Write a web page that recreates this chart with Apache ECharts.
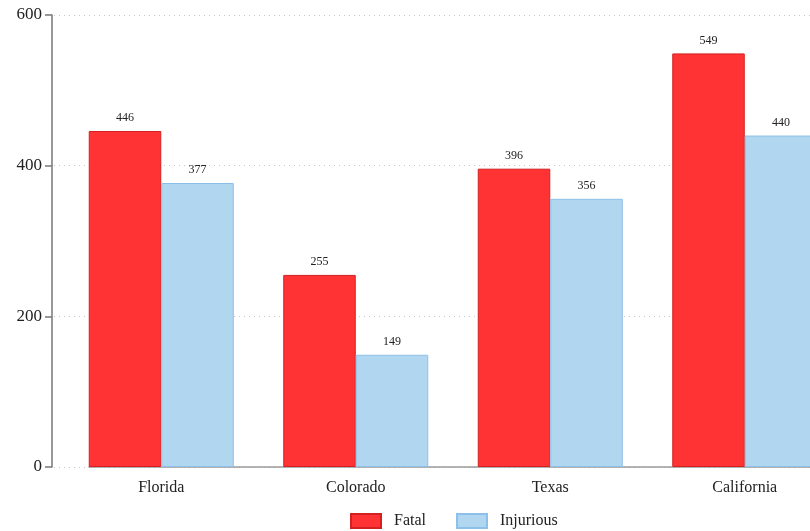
<!DOCTYPE html>
<html>
<head>
<meta charset="utf-8">
<script src="https://cdn.jsdelivr.net/npm/echarts@6/dist/echarts.min.js"></script>
<style>
  html, body { margin: 0; padding: 0; background: #fff; overflow: hidden; }
  #chart { width: 850px; height: 531px; }
</style>
</head>
<body>
<div id="chart"></div>
<script>
// Incident counts by state
const states = ['Florida', 'Colorado', 'Texas', 'California'];
const fatal = [446, 255, 396, 549];
const injurious = [377, 149, 356, 440];
const yTicks = [0, 200, 400, 600];

const serif = '"Liberation Serif", "DejaVu Serif", serif';
const yMin = yTicks[0];
const yMax = yTicks[yTicks.length - 1];
const yStep = yTicks[1] - yTicks[0];

const chart = echarts.init(document.getElementById('chart'), null, { renderer: 'canvas' });

const labelStyle = {
  show: true,
  position: 'top',
  distance: 7,
  fontFamily: serif,
  fontSize: 12,
  color: '#222'
};

chart.setOption({
  animation: false,
  textStyle: { fontFamily: serif },
  grid: [
    // plot area holding the bars
    { left: 64, top: 15, width: 778, bottom: 64, containLabel: false },
    // dotted reference lines, running from the y axis
    { left: 54, top: 15, width: 790, bottom: 64, containLabel: false },
    // baseline under the bar groups
    { left: 89, top: 15, width: 729, bottom: 64, containLabel: false }
  ],
  legend: {
    top: 508,
    left: 345,
    icon: 'rect',
    itemWidth: 30,
    itemHeight: 14,
    itemGap: 30,
    textStyle: { fontFamily: serif, fontSize: 16, color: '#222', padding: [0, 0, 0, 8] },
    data: ['Fatal', 'Injurious']
  },
  xAxis: [
    {
      gridIndex: 0,
      type: 'category',
      data: states,
      axisLine: { show: false },
      axisTick: { show: false },
      axisLabel: { fontFamily: serif, fontSize: 16, color: '#222', margin: 13 }
    },
    {
      gridIndex: 1,
      type: 'category',
      data: [''],
      show: false
    },
    {
      gridIndex: 2,
      type: 'category',
      data: [''],
      axisLine: { show: true, lineStyle: { color: '#9a9a9a', width: 1.5 } },
      axisTick: { show: false },
      axisLabel: { show: false }
    }
  ],
  yAxis: [
    {
      gridIndex: 0,
      type: 'value',
      min: yMin,
      max: yMax,
      interval: yStep,
      offset: 12,
      axisLine: { show: true, lineStyle: { color: '#777', width: 1.5 } },
      axisTick: { show: true, length: 7, lineStyle: { color: '#777', width: 1.5 } },
      axisLabel: { fontFamily: serif, fontSize: 17, color: '#222', margin: 10 },
      splitLine: { show: false }
    },
    {
      gridIndex: 1,
      type: 'value',
      min: yMin,
      max: yMax,
      interval: yStep,
      axisLine: { show: false },
      axisTick: { show: false },
      axisLabel: { show: false },
      splitLine: { show: true, lineStyle: { color: '#c8c8c8', type: [1, 4], width: 1 } }
    },
    {
      gridIndex: 2,
      type: 'value',
      min: yMin,
      max: yMax,
      show: false,
      splitLine: { show: false }
    }
  ],
  series: [
    {
      name: 'Fatal',
      type: 'bar',
      xAxisIndex: 0,
      yAxisIndex: 0,
      data: fatal,
      barWidth: 72.5,
      barGap: '0%',
      z: 3,
      itemStyle: { color: '#FF3333', borderColor: '#D42020', borderWidth: 1 },
      label: labelStyle
    },
    {
      name: 'Injurious',
      type: 'bar',
      xAxisIndex: 0,
      yAxisIndex: 0,
      data: injurious,
      barWidth: 72.5,
      barGap: '0%',
      z: 3,
      itemStyle: { color: '#B0D6F0', borderColor: '#8CC0E8', borderWidth: 1 },
      label: labelStyle
    }
  ]
});
</script>
</body>
</html>
